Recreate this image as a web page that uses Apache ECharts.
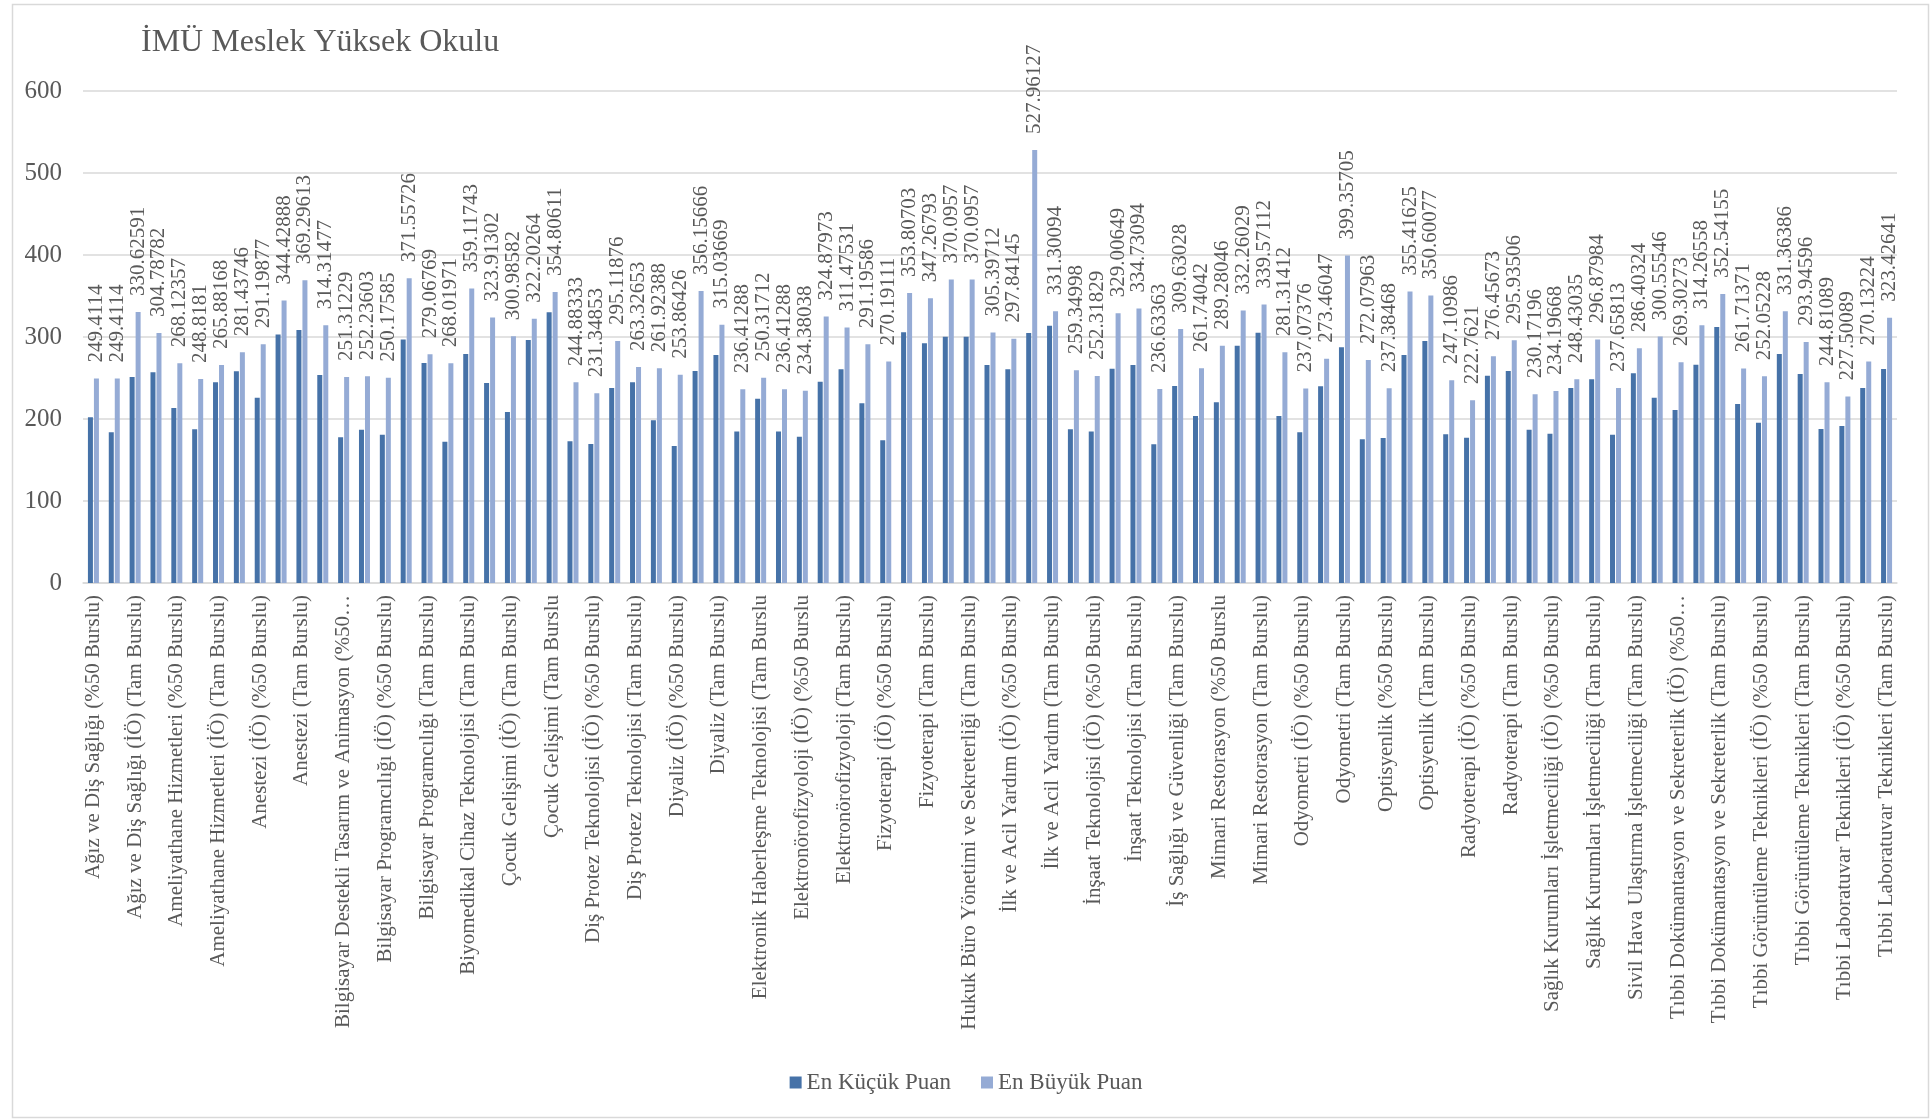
<!DOCTYPE html>
<html>
<head>
<meta charset="utf-8">
<title>İMÜ Meslek Yüksek Okulu</title>
<script src="https://cdn.jsdelivr.net/npm/echarts@6/dist/echarts.min.js"></script>
<style>
  html, body { margin: 0; padding: 0; background: #fff; }
  #chart { width: 1932px; height: 1119px; }
</style>
</head>
<body>
<div id="chart"></div>
<script>
// bölümler (sadece çift sıradakiler eksende görünüyor)
const bolumler = [
  'Ağız ve Diş Sağlığı (%50 Burslu)',
  'Ağız ve Diş Sağlığı (İÖ) (%50 Burslu)',
  'Ağız ve Diş Sağlığı (İÖ) (Tam Burslu)',
  'Ağız ve Diş Sağlığı (Tam Burslu)',
  'Ameliyathane Hizmetleri (%50 Burslu)',
  'Ameliyathane Hizmetleri (İÖ) (%50 Burslu)',
  'Ameliyathane Hizmetleri (İÖ) (Tam Burslu)',
  'Ameliyathane Hizmetleri (Tam Burslu)',
  'Anestezi (İÖ) (%50 Burslu)',
  'Anestezi (İÖ) (Tam Burslu)',
  'Anestezi (Tam Burslu)',
  'Anestezi (%50 Burslu)',
  'Bilgisayar Destekli Tasarım ve Animasyon (%50 Burslu)',
  'Bilgisayar Destekli Tasarım ve Animasyon (Tam Burslu)',
  'Bilgisayar Programcılığı (İÖ) (%50 Burslu)',
  'Bilgisayar Programcılığı (%50 Burslu)',
  'Bilgisayar Programcılığı (Tam Burslu)',
  'Biyomedikal Cihaz Teknolojisi (%50 Burslu)',
  'Biyomedikal Cihaz Teknolojisi (Tam Burslu)',
  'Çocuk Gelişimi (İÖ) (%50 Burslu)',
  'Çocuk Gelişimi (İÖ) (Tam Burslu)',
  'Çocuk Gelişimi (%50 Burslu)',
  'Çocuk Gelişimi (Tam Burslu',
  'Diş Protez Teknolojisi (%50 Burslu)',
  'Diş Protez Teknolojisi (İÖ) (%50 Burslu)',
  'Diş Protez Teknolojisi (İÖ) (Tam Burslu)',
  'Diş Protez Teknolojisi (Tam Burslu)',
  'Diyaliz (%50 Burslu)',
  'Diyaliz (İÖ) (%50 Burslu)',
  'Diyaliz (İÖ) (Tam Burslu)',
  'Diyaliz (Tam Burslu)',
  'Elektronik Haberleşme Teknolojisi (%50 Burslu)',
  'Elektronik Haberleşme Teknolojisi (Tam Burslu',
  'Elektronörofizyoloji (%50 Burslu)',
  'Elektronörofizyoloji (İÖ) (%50 Burslu',
  'Elektronörofizyoloji (İÖ) (Tam Burslu)',
  'Elektronörofizyoloji (Tam Burslu)',
  'Fizyoterapi (%50 Burslu)',
  'Fizyoterapi (İÖ) (%50 Burslu)',
  'Fizyoterapi (İÖ) (Tam Burslu)',
  'Fizyoterapi (Tam Burslu)',
  'Hukuk Büro Yönetimi ve Sekreterliği (%50 Burslu)',
  'Hukuk Büro Yönetimi ve Sekreterliği (Tam Burslu)',
  'İlk ve Acil Yardım (%50 Burslu)',
  'İlk ve Acil Yardım (İÖ) (%50 Burslu)',
  'İlk ve Acil Yardım (İÖ) (Tam Burslu)',
  'İlk ve Acil Yardım (Tam Burslu)',
  'İnşaat Teknolojisi (%50 Burslu)',
  'İnşaat Teknolojisi (İÖ) (%50 Burslu)',
  'İnşaat Teknolojisi (İÖ) (Tam Burslu)',
  'İnşaat Teknolojisi (Tam Burslu)',
  'İş Sağlığı ve Güvenliği (%50 Burslu)',
  'İş Sağlığı ve Güvenliği (Tam Burslu)',
  'Mimari Restorasyon (İÖ) (%50 Burslu)',
  'Mimari Restorasyon (%50 Burslu',
  'Mimari Restorasyon (İÖ) (Tam Burslu)',
  'Mimari Restorasyon (Tam Burslu)',
  'Odyometri (%50 Burslu)',
  'Odyometri (İÖ) (%50 Burslu)',
  'Odyometri (İÖ) (Tam Burslu)',
  'Odyometri (Tam Burslu)',
  'Optisyenlik (İÖ) (%50 Burslu)',
  'Optisyenlik (%50 Burslu)',
  'Optisyenlik (İÖ) (Tam Burslu)',
  'Optisyenlik (Tam Burslu)',
  'Radyoterapi (%50 Burslu)',
  'Radyoterapi (İÖ) (%50 Burslu)',
  'Radyoterapi (İÖ) (Tam Burslu)',
  'Radyoterapi (Tam Burslu)',
  'Sağlık Kurumları İşletmeciliği (%50 Burslu)',
  'Sağlık Kurumları İşletmeciliği (İÖ) (%50 Burslu)',
  'Sağlık Kurumları İşletmeciliği (İÖ) (Tam Burslu)',
  'Sağlık Kurumları İşletmeciliği (Tam Burslu)',
  'Sivil Hava Ulaştırma İşletmeciliği (%50 Burslu)',
  'Sivil Hava Ulaştırma İşletmeciliği (Tam Burslu)',
  'Tıbbi Dokümantasyon ve Sekreterlik (%50 Burslu)',
  'Tıbbi Dokümantasyon ve Sekreterlik (İÖ) (%50 Burslu)',
  'Tıbbi Dokümantasyon ve Sekreterlik (İÖ) (Tam Burslu)',
  'Tıbbi Dokümantasyon ve Sekreterlik (Tam Burslu)',
  'Tıbbi Görüntüleme Teknikleri (%50 Burslu)',
  'Tıbbi Görüntüleme Teknikleri (İÖ) (%50 Burslu)',
  'Tıbbi Görüntüleme Teknikleri (İÖ) (Tam Burslu)',
  'Tıbbi Görüntüleme Teknikleri (Tam Burslu)',
  'Tıbbi Laboratuvar Teknikleri (%50 Burslu)',
  'Tıbbi Laboratuvar Teknikleri (İÖ) (%50 Burslu)',
  'Tıbbi Laboratuvar Teknikleri (İÖ) (Tam Burslu)',
  'Tıbbi Laboratuvar Teknikleri (Tam Burslu)'
]

// en küçük puan (resimden okunan yaklaşık değerler)
const enKucuk = [
  202, 183.7, 251.2, 256.9, 213.4, 187.4, 244.7, 258.1, 226, 303.2,
  308.5, 253.6, 177.6, 187, 180.8, 296.8, 268.3, 172.3, 279.3, 243.9,
  208.5, 296.3, 330.1, 172.8, 169.5, 237.8, 244.7, 198.4, 167.1, 258.5,
  278, 184.9, 224.8, 184.9, 178.4, 245.5, 260.6, 219.1, 174, 305.7,
  292.3, 300.4, 300.4, 265.8, 260.6, 304.8, 313.8, 187.4, 184.9, 261.4,
  265.8, 169.1, 240.2, 203.6, 220.3, 289.4, 305.3, 203.6, 183.7, 239.8,
  287.4, 175.2, 176.8, 278, 295.1, 181.3, 177.2, 252.8, 258.5, 187,
  182.1, 237.8, 248.4, 180.8, 255.7, 226, 211, 266.2, 312.2, 218.3,
  195.5, 279.3, 254.8, 187.8, 191.5, 237.8, 261
]

// en büyük puan (etiketlerden)
const enBuyuk = [
  249.4114, 249.4114, 330.62591, 304.78782, 268.12357, 248.8181, 265.88168, 281.43746, 291.19877, 344.42888,
  369.29613, 314.31477, 251.31229, 252.23603, 250.17585, 371.55726, 279.06769, 268.01971, 359.11743, 323.91302,
  300.98582, 322.20264, 354.80611, 244.88333, 231.34853, 295.11876, 263.32653, 261.92388, 253.86426, 356.15666,
  315.03669, 236.41288, 250.31712, 236.41288, 234.38038, 324.87973, 311.47531, 291.19586, 270.19111, 353.80703,
  347.26793, 370.0957, 370.0957, 305.39712, 297.84145, 527.96127, 331.30094, 259.34998, 252.31829, 329.00649,
  334.73094, 236.63363, 309.63028, 261.74042, 289.28046, 332.26029, 339.57112, 281.31412, 237.07376, 273.46047,
  399.35705, 272.07963, 237.38468, 355.41625, 350.60077, 247.10986, 222.7621, 276.45673, 295.93506, 230.17196,
  234.19668, 248.43035, 296.87984, 237.65813, 286.40324, 300.55546, 269.30273, 314.26558, 352.54155, 261.71371,
  252.05228, 331.36386, 293.94596, 244.81089, 227.50089, 270.13224, 323.42641
]

const yazi = "'Liberation Serif', 'Times New Roman', serif"
const gri = '#595959'

// uzun etiketleri Excel gibi kelime sınırında kes
const kisalt = (s) => {
  if (s.length <= 48) return s
  return s.slice(0, s.lastIndexOf(' ')) + '…'
}

const chart = echarts.init(document.getElementById('chart'))

const option = {
  backgroundColor: '#fff',
  animation: false,
  title: {
    text: 'İMÜ Meslek Yüksek Okulu',
    left: 136,
    top: 22,
    textStyle: { fontFamily: yazi, fontSize: 32, fontWeight: 'normal', color: gri }
  },
  legend: {
    data: ['En Küçük Puan', 'En Büyük Puan'],
    bottom: 20,
    left: 'center',
    itemWidth: 12,
    itemHeight: 12,
    itemGap: 30,
    icon: 'rect',
    textStyle: { fontFamily: yazi, fontSize: 23, color: gri }
  },
  grid: {
    left: 83,
    right: 35,
    top: 91,
    bottom: 536
  },
  xAxis: {
    type: 'category',
    data: bolumler,
    axisLine: { lineStyle: { color: '#d9d9d9', width: 1.5 } },
    axisTick: { show: false },
    axisLabel: {
      interval: 1,
      rotate: 90,
      margin: 12,
      fontFamily: yazi,
      fontSize: 21,
      color: gri,
      formatter: kisalt
    }
  },
  yAxis: {
    type: 'value',
    min: 0,
    max: 600,
    interval: 100,
    axisLine: { show: false },
    axisTick: { show: false },
    axisLabel: { fontFamily: yazi, fontSize: 25, color: gri, margin: 21 },
    splitLine: { lineStyle: { color: '#d9d9d9', width: 1.5 } }
  },
  series: [
    {
      name: 'En Küçük Puan',
      type: 'bar',
      data: enKucuk,
      barWidth: 5,
      barGap: '20%',
      itemStyle: { color: '#4672A8' }
    },
    {
      name: 'En Büyük Puan',
      type: 'bar',
      data: enBuyuk,
      barWidth: 5,
      itemStyle: { color: '#95ABD5' },
      label: {
        show: true,
        position: 'top',
        rotate: 90,
        align: 'left',
        verticalAlign: 'middle',
        distance: 14,
        offset: [2, 0],
        fontFamily: yazi,
        fontSize: 21,
        color: gri
      }
    }
  ],
  graphic: [
    {
      type: 'rect',
      left: 10,
      top: 2,
      shape: { width: 1916, height: 1113 },
      style: { fill: 'none', stroke: '#d9d9d9', lineWidth: 1.5 },
      silent: true
    }
  ]
}

chart.setOption(option)
</script>
</body>
</html>
